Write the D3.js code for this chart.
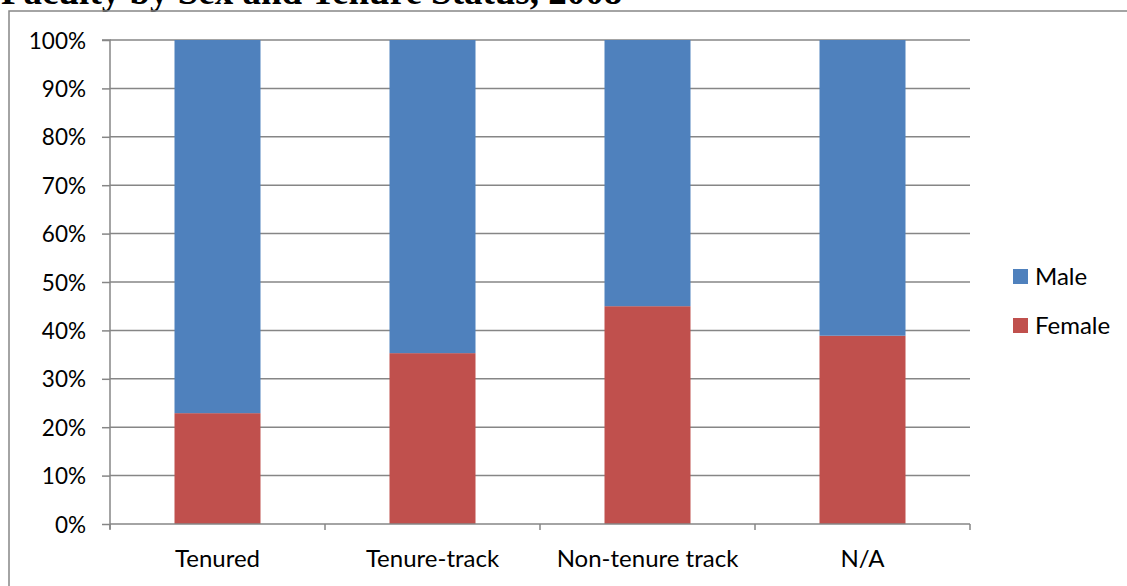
<!DOCTYPE html>
<html>
<head>
<meta charset="utf-8">
<script src="https://cdn.jsdelivr.net/npm/d3@7"></script>
<style>
  html, body { margin: 0; padding: 0; background: #fff; }
  svg { display: block; }
</style>
</head>
<body>
<svg id="chart" width="1127" height="586"></svg>
<script>
// Faculty by sex and tenure status, 2008 (percent of each group)
const categories = ["Tenured", "Tenure-track", "Non-tenure track", "N/A"];
const femaleShare = [22.9, 35.3, 45.0, 38.9];
const maleShare = [77.1, 64.7, 55.0, 61.1];
const seriesNames = ["Male", "Female"];
const seriesColors = ["#4F81BD", "#C0504D"];
const yTicks = [0, 10, 20, 30, 40, 50, 60, 70, 80, 90, 100];

const svg = d3.select("#chart");
const W = 1127, H = 586;
const plot = { left: 110, right: 970, top: 40, bottom: 524 };
const axisGray = "#868686";
const labelFont = "Lato, 'Open Sans', sans-serif";

// Chart title (sits above the frame, partly off the top)
svg.append("text")
  .attr("x", 1).attr("y", 4)
  .attr("font-family", "'Liberation Serif', 'Times New Roman', serif")
  .attr("font-weight", "bold")
  .attr("font-size", 37)
  .attr("fill", "#000")
  .text("Faculty by Sex and Tenure Status, 2008");

// Outer chart frame
svg.append("path")
  .attr("d", `M9,${H + 2} L9,11 L${W + 2},11`)
  .attr("fill", "none")
  .attr("stroke", axisGray)
  .attr("stroke-width", 1.5);

const x = d3.scaleBand()
  .domain(categories)
  .range([plot.left, plot.right])
  .paddingInner(0.6)
  .paddingOuter(0.3);

const y = d3.scaleLinear()
  .domain([0, 100])
  .range([plot.bottom, plot.top]);

// Horizontal gridlines
svg.append("g")
  .selectAll("line")
  .data(yTicks.filter(t => t > 0))
  .join("line")
  .attr("x1", plot.left).attr("x2", plot.right)
  .attr("y1", d => y(d)).attr("y2", d => y(d))
  .attr("stroke", axisGray)
  .attr("stroke-width", 1.5);

// Stacked bars
const rows = categories.map((c, i) => ({ category: c, Female: femaleShare[i], Male: maleShare[i] }));
const stack = d3.stack().keys(["Female", "Male"]);
const layers = stack(rows);
const colorOf = k => seriesColors[seriesNames.indexOf(k)];

svg.append("g")
  .selectAll("g")
  .data(layers)
  .join("g")
  .attr("fill", d => colorOf(d.key))
  .selectAll("rect")
  .data(d => d)
  .join("rect")
  .attr("x", d => x(d.data.category))
  .attr("width", x.bandwidth())
  .attr("y", d => y(d[1]))
  .attr("height", d => y(d[0]) - y(d[1]));

// Y axis
const yAxis = d3.axisLeft(y)
  .tickValues(yTicks)
  .tickFormat(d => d + "%")
  .tickSize(8)
  .tickPadding(16);
const gy = svg.append("g")
  .attr("transform", `translate(${plot.left},0)`)
  .call(yAxis);
gy.select(".domain").attr("stroke", axisGray).attr("stroke-width", 1.5)
  .attr("d", `M-8,${plot.top}H0V${plot.bottom + 5}`);
gy.selectAll(".tick line").attr("stroke", axisGray).attr("stroke-width", 1.5);
gy.selectAll(".tick text")
  .attr("font-family", labelFont)
  .attr("font-size", 22.5)
  .attr("dy", "0.36em")
  .attr("fill", "#000");

// X axis: baseline with tick marks between categories
const xBase = svg.append("g");
xBase.append("line")
  .attr("x1", plot.left).attr("x2", plot.right)
  .attr("y1", plot.bottom).attr("y2", plot.bottom)
  .attr("stroke", axisGray).attr("stroke-width", 1.5);
const bounds = d3.range(categories.length + 1).map(i => plot.left + i * (plot.right - plot.left) / categories.length);
xBase.selectAll(".xt")
  .data(bounds)
  .join("line")
  .attr("x1", d => d).attr("x2", d => d)
  .attr("y1", plot.bottom).attr("y2", plot.bottom + 6)
  .attr("stroke", axisGray).attr("stroke-width", 1.5);
xBase.selectAll("text")
  .data(categories)
  .join("text")
  .attr("x", d => x(d) + x.bandwidth() / 2)
  .attr("y", 567)
  .attr("text-anchor", "middle")
  .attr("font-family", labelFont)
  .attr("font-size", 24)
  .attr("fill", "#000")
  .text(d => d);

// Legend
const legend = svg.append("g").attr("transform", "translate(1013,0)");
const legendY = [284, 333];
seriesNames.forEach((name, i) => {
  legend.append("rect")
    .attr("x", 0).attr("y", legendY[i] - 15)
    .attr("width", 15).attr("height", 15)
    .attr("fill", seriesColors[i]);
  legend.append("text")
    .attr("x", 22).attr("y", legendY[i] + 1)
    .attr("font-family", labelFont)
    .attr("font-size", 24)
    .attr("fill", "#000")
    .text(name);
});
</script>
</body>
</html>
